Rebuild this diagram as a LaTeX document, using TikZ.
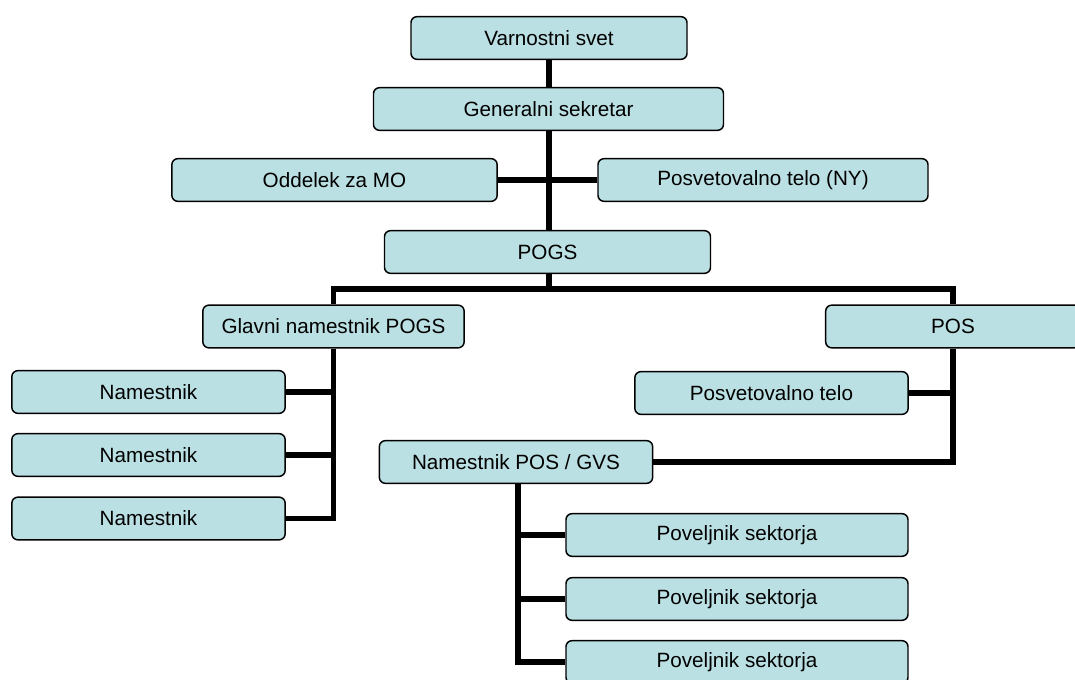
\documentclass[tikz,border=0pt]{standalone}
\usepackage{fontspec}
\setmainfont{Liberation Sans}
\usepackage{tikz}
\usetikzlibrary{positioning}
\definecolor{boxcolor}{RGB}{187, 224, 227}

\begin{document}
\begin{tikzpicture}[
    x=0.75pt, y=-0.75pt,
    box/.style={rectangle, draw, line width=1.1pt, rounded corners=4.5pt, fill=boxcolor, minimum height=32pt, inner sep=0pt, font=\fontsize{15.5}{18}\selectfont},
    link/.style={line width=3.8pt}
]
\useasboundingbox (0,0) rectangle (1075,680);

% Top of the chart
\node[box, minimum width=207pt] (vs) at (549,38) {Varnostni svet};
\node[box, minimum width=262.5pt] (gs) at (548.5,109) {Generalni sekretar};
\node[box, minimum width=244pt] (om) at (334.5,180) {Oddelek za MO};
\node[box, minimum width=247.5pt] (ny) at (763,180) {Posvetovalno telo (NY)};
\node[box, minimum width=244.5pt] (pogs) at (547.5,252) {POGS};

% Left branch
\node[box, minimum width=196pt] (gl) at (333.5,326.5) {Glavni namestnik POGS};
\node[box, minimum width=205pt] (n1) at (148.5,392) {Namestnik};
\node[box, minimum width=205pt] (n2) at (148.5,455) {Namestnik};
\node[box, minimum width=205pt] (n3) at (148.5,518.5) {Namestnik};

% Right branch
\node[box, minimum width=191pt] (pos) at (953,326.5) {POS};
\node[box, minimum width=205pt] (pt) at (771.5,393) {Posvetovalno telo};
\node[box, minimum width=205pt] (gvs) at (516,462) {Namestnik POS / GVS};
\node[box, minimum width=256.5pt] (s1) at (737,535) {Poveljnik sektorja};
\node[box, minimum width=256.5pt] (s2) at (737,599) {Poveljnik sektorja};
\node[box, minimum width=256.5pt] (s3) at (737,662) {Poveljnik sektorja};

% Connectors
\coordinate (bar) at (549,289);
\coordinate (gvsdown) at (518,484);
\draw[link] (vs.south) -- (vs.south |- gs.north);
\draw[link] (vs.south |- gs.south) -- (vs.south |- pogs.north);
\draw[link] (om.east) -- (ny.west);
\draw[link] (vs.south |- pogs.south) -- (bar);
\draw[link] (gl.north) |- (bar) -| (pos.north);

\draw[link] (gl.south) |- (n3.east);
\draw[link] (n1.east) -- (n1.east -| gl.south);
\draw[link] (n2.east) -- (n2.east -| gl.south);

\draw[link] (pos.south) |- (gvs.east);
\draw[link] (pt.east) -- (pt.east -| pos.south);

\draw[link] (gvsdown) |- (s3.west);
\draw[link] (s1.west) -- (s1.west -| gvsdown);
\draw[link] (s2.west) -- (s2.west -| gvsdown);

\end{tikzpicture}
\end{document}
